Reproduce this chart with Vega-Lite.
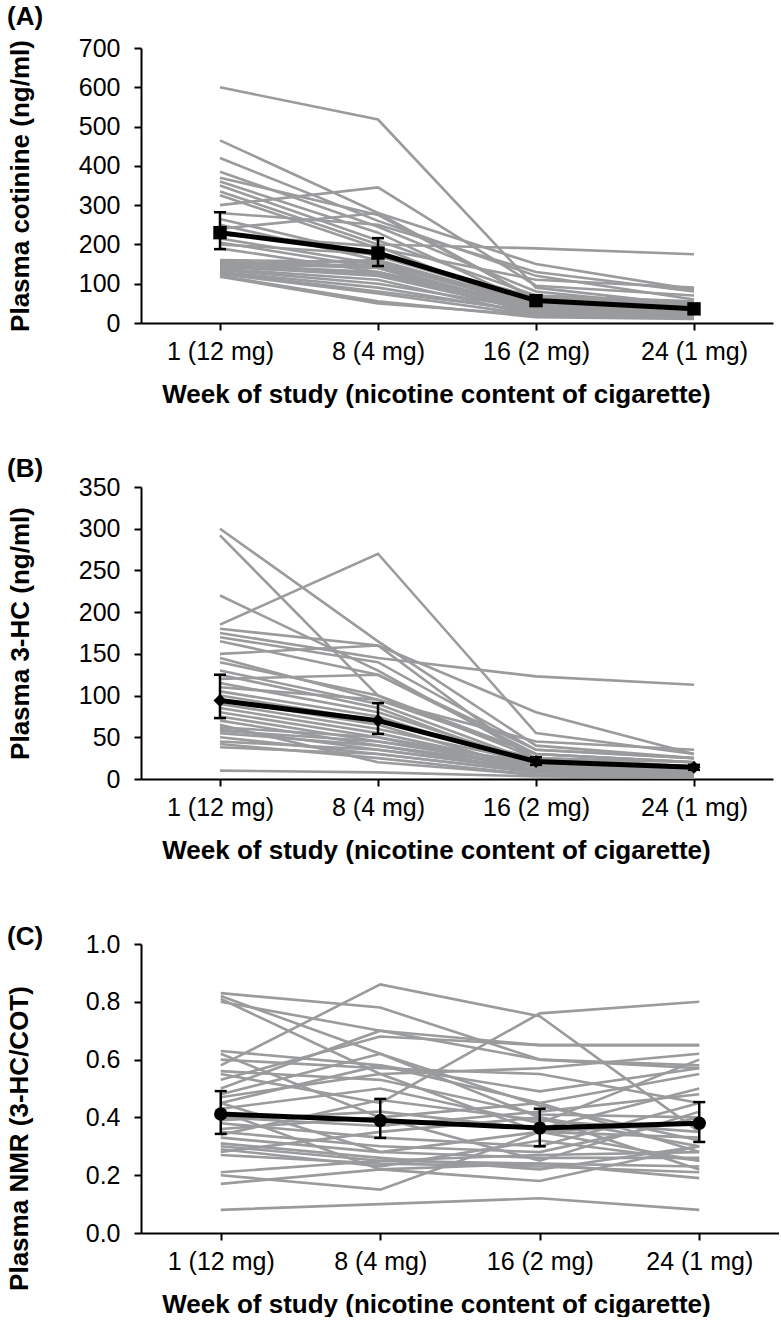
{
  "$schema": "https://vega.github.io/schema/vega-lite/v6.json",
  "padding": {"left": 6, "top": 4, "right": 0, "bottom": 0},
  "background": "white",
  "spacing": 49,
  "config": {
    "view": {"stroke": null},
    "font": "Liberation Sans",
    "axis": {
      "domainColor": "black", "domainWidth": 2, "tickColor": "black", "tickWidth": 2, "tickSize": 7,
      "labelFont": "Liberation Sans", "labelFontSize": 25, "labelColor": "black",
      "titleFont": "Liberation Sans", "titleFontSize": 26, "titleFontWeight": "bold", "titleColor": "black",
      "grid": false, "labelOverlap": false
    },
    "axisY": {"labelPadding": 14, "titlePadding": 45},
    "axisX": {"labelPadding": 9, "titlePadding": 17, "labelAngle": 0},
    "title": {"font": "Liberation Sans", "fontSize": 26, "fontWeight": "bold", "color": "black", "anchor": "start", "frame": "group"}
  },
  "datasets": {
    "subj": [
      {"p":"A","s":1,"w1":600,"w8":518,"w16":90,"w24":45},
      {"p":"A","s":2,"w1":465,"w8":280,"w16":150,"w24":85},
      {"p":"A","s":3,"w1":420,"w8":260,"w16":120,"w24":60},
      {"p":"A","s":4,"w1":385,"w8":245,"w16":80,"w24":40},
      {"p":"A","s":5,"w1":370,"w8":275,"w16":60,"w24":30},
      {"p":"A","s":6,"w1":360,"w8":230,"w16":45,"w24":25},
      {"p":"A","s":7,"w1":350,"w8":210,"w16":70,"w24":55},
      {"p":"A","s":8,"w1":335,"w8":200,"w16":190,"w24":175},
      {"p":"A","s":9,"w1":325,"w8":190,"w16":110,"w24":90},
      {"p":"A","s":10,"w1":300,"w8":345,"w16":95,"w24":70},
      {"p":"A","s":11,"w1":280,"w8":250,"w16":130,"w24":80},
      {"p":"A","s":12,"w1":265,"w8":170,"w16":55,"w24":35},
      {"p":"A","s":13,"w1":250,"w8":160,"w16":40,"w24":30},
      {"p":"A","s":14,"w1":240,"w8":280,"w16":60,"w24":45},
      {"p":"A","s":15,"w1":225,"w8":195,"w16":35,"w24":25},
      {"p":"A","s":16,"w1":215,"w8":150,"w16":50,"w24":40},
      {"p":"A","s":17,"w1":205,"w8":140,"w16":30,"w24":20},
      {"p":"A","s":18,"w1":200,"w8":175,"w16":65,"w24":50},
      {"p":"A","s":19,"w1":190,"w8":130,"w16":45,"w24":35},
      {"p":"A","s":20,"w1":160,"w8":155,"w16":40,"w24":30},
      {"p":"A","s":21,"w1":155,"w8":145,"w16":35,"w24":25},
      {"p":"A","s":22,"w1":152,"w8":140,"w16":30,"w24":30},
      {"p":"A","s":23,"w1":150,"w8":160,"w16":50,"w24":40},
      {"p":"A","s":24,"w1":148,"w8":130,"w16":25,"w24":20},
      {"p":"A","s":25,"w1":145,"w8":120,"w16":30,"w24":25},
      {"p":"A","s":26,"w1":140,"w8":150,"w16":45,"w24":35},
      {"p":"A","s":27,"w1":138,"w8":110,"w16":20,"w24":15},
      {"p":"A","s":28,"w1":135,"w8":100,"w16":35,"w24":30},
      {"p":"A","s":29,"w1":130,"w8":90,"w16":25,"w24":20},
      {"p":"A","s":30,"w1":128,"w8":80,"w16":30,"w24":25},
      {"p":"A","s":31,"w1":125,"w8":75,"w16":20,"w24":15},
      {"p":"A","s":32,"w1":120,"w8":55,"w16":15,"w24":10},
      {"p":"A","s":33,"w1":118,"w8":50,"w16":20,"w24":15},
      {"p":"A","s":34,"w1":142,"w8":125,"w16":40,"w24":30},
      {"p":"B","s":1,"w1":300,"w8":165,"w16":40,"w24":25},
      {"p":"B","s":2,"w1":292,"w8":100,"w16":30,"w24":20},
      {"p":"B","s":3,"w1":220,"w8":130,"w16":25,"w24":15},
      {"p":"B","s":4,"w1":185,"w8":270,"w16":55,"w24":30},
      {"p":"B","s":5,"w1":180,"w8":160,"w16":20,"w24":10},
      {"p":"B","s":6,"w1":175,"w8":145,"w16":123,"w24":113},
      {"p":"B","s":7,"w1":170,"w8":140,"w16":35,"w24":25},
      {"p":"B","s":8,"w1":165,"w8":125,"w16":30,"w24":20},
      {"p":"B","s":9,"w1":150,"w8":160,"w16":80,"w24":30},
      {"p":"B","s":10,"w1":145,"w8":95,"w16":45,"w24":35},
      {"p":"B","s":11,"w1":140,"w8":100,"w16":25,"w24":15},
      {"p":"B","s":12,"w1":130,"w8":90,"w16":20,"w24":10},
      {"p":"B","s":13,"w1":125,"w8":85,"w16":15,"w24":10},
      {"p":"B","s":14,"w1":120,"w8":125,"w16":35,"w24":25},
      {"p":"B","s":15,"w1":115,"w8":80,"w16":20,"w24":15},
      {"p":"B","s":16,"w1":110,"w8":95,"w16":30,"w24":20},
      {"p":"B","s":17,"w1":105,"w8":75,"w16":15,"w24":10},
      {"p":"B","s":18,"w1":100,"w8":70,"w16":25,"w24":20},
      {"p":"B","s":19,"w1":95,"w8":65,"w16":10,"w24":8},
      {"p":"B","s":20,"w1":90,"w8":60,"w16":20,"w24":15},
      {"p":"B","s":21,"w1":85,"w8":55,"w16":15,"w24":10},
      {"p":"B","s":22,"w1":80,"w8":50,"w16":10,"w24":5},
      {"p":"B","s":23,"w1":75,"w8":45,"w16":20,"w24":15},
      {"p":"B","s":24,"w1":70,"w8":40,"w16":15,"w24":10},
      {"p":"B","s":25,"w1":65,"w8":20,"w16":5,"w24":5},
      {"p":"B","s":26,"w1":60,"w8":35,"w16":10,"w24":8},
      {"p":"B","s":27,"w1":58,"w8":45,"w16":15,"w24":10},
      {"p":"B","s":28,"w1":55,"w8":40,"w16":10,"w24":8},
      {"p":"B","s":29,"w1":50,"w8":30,"w16":8,"w24":5},
      {"p":"B","s":30,"w1":45,"w8":35,"w16":12,"w24":10},
      {"p":"B","s":31,"w1":42,"w8":25,"w16":5,"w24":3},
      {"p":"B","s":32,"w1":38,"w8":30,"w16":8,"w24":5},
      {"p":"B","s":33,"w1":10,"w8":8,"w16":3,"w24":2},
      {"p":"B","s":34,"w1":62,"w8":50,"w16":18,"w24":12},
      {"p":"C","s":1,"w1":0.83,"w8":0.78,"w16":0.60,"w24":0.57},
      {"p":"C","s":2,"w1":0.82,"w8":0.62,"w16":0.40,"w24":0.30},
      {"p":"C","s":3,"w1":0.81,"w8":0.55,"w16":0.35,"w24":0.25},
      {"p":"C","s":4,"w1":0.80,"w8":0.70,"w16":0.65,"w24":0.65},
      {"p":"C","s":5,"w1":0.63,"w8":0.58,"w16":0.45,"w24":0.55},
      {"p":"C","s":6,"w1":0.58,"w8":0.86,"w16":0.75,"w24":0.35},
      {"p":"C","s":7,"w1":0.55,"w8":0.45,"w16":0.76,"w24":0.80},
      {"p":"C","s":8,"w1":0.53,"w8":0.68,"w16":0.65,"w24":0.65},
      {"p":"C","s":9,"w1":0.50,"w8":0.70,"w16":0.60,"w24":0.58},
      {"p":"C","s":10,"w1":0.47,"w8":0.55,"w16":0.57,"w24":0.62},
      {"p":"C","s":11,"w1":0.45,"w8":0.58,"w16":0.49,"w24":0.57},
      {"p":"C","s":12,"w1":0.43,"w8":0.50,"w16":0.38,"w24":0.60},
      {"p":"C","s":13,"w1":0.40,"w8":0.37,"w16":0.42,"w24":0.48},
      {"p":"C","s":14,"w1":0.38,"w8":0.33,"w16":0.30,"w24":0.45},
      {"p":"C","s":15,"w1":0.36,"w8":0.40,"w16":0.25,"w24":0.42},
      {"p":"C","s":16,"w1":0.35,"w8":0.30,"w16":0.28,"w24":0.40},
      {"p":"C","s":17,"w1":0.33,"w8":0.28,"w16":0.35,"w24":0.33},
      {"p":"C","s":18,"w1":0.31,"w8":0.26,"w16":0.22,"w24":0.30},
      {"p":"C","s":19,"w1":0.30,"w8":0.25,"w16":0.27,"w24":0.28},
      {"p":"C","s":20,"w1":0.29,"w8":0.23,"w16":0.32,"w24":0.25},
      {"p":"C","s":21,"w1":0.28,"w8":0.35,"w16":0.40,"w24":0.22},
      {"p":"C","s":22,"w1":0.21,"w8":0.25,"w16":0.24,"w24":0.19},
      {"p":"C","s":23,"w1":0.20,"w8":0.15,"w16":0.35,"w24":0.38},
      {"p":"C","s":24,"w1":0.17,"w8":0.22,"w16":0.18,"w24":0.30},
      {"p":"C","s":25,"w1":0.08,"w8":0.10,"w16":0.12,"w24":0.08},
      {"p":"C","s":26,"w1":0.62,"w8":0.40,"w16":0.45,"w24":0.28},
      {"p":"C","s":27,"w1":0.48,"w8":0.62,"w16":0.44,"w24":0.32},
      {"p":"C","s":28,"w1":0.45,"w8":0.28,"w16":0.26,"w24":0.26},
      {"p":"C","s":29,"w1":0.42,"w8":0.22,"w16":0.24,"w24":0.23},
      {"p":"C","s":30,"w1":0.39,"w8":0.42,"w16":0.36,"w24":0.50},
      {"p":"C","s":31,"w1":0.34,"w8":0.46,"w16":0.39,"w24":0.35},
      {"p":"C","s":32,"w1":0.56,"w8":0.53,"w16":0.41,"w24":0.40},
      {"p":"C","s":33,"w1":0.27,"w8":0.24,"w16":0.23,"w24":0.21},
      {"p":"C","s":34,"w1":0.60,"w8":0.57,"w16":0.55,"w24":0.45}
    ],
    "means": [
      {"p":"A","wk":"w1","m":230,"lo":188,"hi":282},
      {"p":"A","wk":"w8","m":178,"lo":145,"hi":216},
      {"p":"A","wk":"w16","m":57,"lo":49,"hi":66},
      {"p":"A","wk":"w24","m":36,"lo":30,"hi":43},
      {"p":"B","wk":"w1","m":94,"lo":73,"hi":125},
      {"p":"B","wk":"w8","m":70,"lo":54,"hi":91},
      {"p":"B","wk":"w16","m":21,"lo":17,"hi":26},
      {"p":"B","wk":"w24","m":14,"lo":11,"hi":17},
      {"p":"C","wk":"w1","m":0.412,"lo":0.343,"hi":0.491},
      {"p":"C","wk":"w8","m":0.389,"lo":0.329,"hi":0.464},
      {"p":"C","wk":"w16","m":0.363,"lo":0.30,"hi":0.43},
      {"p":"C","wk":"w24","m":0.38,"lo":0.315,"hi":0.453}
    ]
  },
  "vconcat": [
    {
      "width": 632, "height": 275,
      "title": {"text": "(A)", "dx": -134, "offset": 6},
      "encoding": {
        "x": {"field": "wk", "type": "ordinal", "sort": ["w1","w8","w16","w24"], "scale": {"type": "point", "padding": 0.5},
              "title": "Week of study (nicotine content of cigarette)",
              "axis": {"titleX": 295, "labelExpr": "datum.value == 'w1' ? '1 (12 mg)' : datum.value == 'w8' ? '8 (4 mg)' : datum.value == 'w16' ? '16 (2 mg)' : '24 (1 mg)'"}}
      },
      "layer": [
        {"data": {"name": "subj"}, "transform": [{"filter": "datum.p == 'A'"}, {"fold": ["w1","w8","w16","w24"], "as": ["wk","v"]}],
         "mark": {"type": "line", "color": "#9a9b9d", "strokeWidth": 2.6},
         "encoding": {"y": {"field": "v", "type": "quantitative", "scale": {"domain": [0,700]}, "title": "Plasma cotinine (ng/ml)", "axis": {"values": [0,100,200,300,400,500,600,700], "labelOverlap": false}}, "detail": {"field": "s"}}},
        {"data": {"name": "means"}, "transform": [{"filter": "datum.p == 'A'"}],
         "mark": {"type": "rule", "color": "black", "strokeWidth": 2.5},
         "encoding": {"y": {"field": "lo", "type": "quantitative", "title": "Plasma cotinine (ng/ml)", "axis": {"values": [0,100,200,300,400,500,600,700], "labelOverlap": false}}, "y2": {"field": "hi"}}},
        {"data": {"name": "means"}, "transform": [{"filter": "datum.p == 'A'"}],
         "mark": {"type": "tick", "color": "black", "size": 12, "thickness": 2.5, "opacity": 1},
         "encoding": {"y": {"field": "lo", "type": "quantitative", "title": "Plasma cotinine (ng/ml)", "axis": {"values": [0,100,200,300,400,500,600,700], "labelOverlap": false}}}},
        {"data": {"name": "means"}, "transform": [{"filter": "datum.p == 'A'"}],
         "mark": {"type": "tick", "color": "black", "size": 12, "thickness": 2.5, "opacity": 1},
         "encoding": {"y": {"field": "hi", "type": "quantitative", "title": "Plasma cotinine (ng/ml)", "axis": {"values": [0,100,200,300,400,500,600,700], "labelOverlap": false}}}},
        {"data": {"name": "means"}, "transform": [{"filter": "datum.p == 'A'"}],
         "mark": {"type": "line", "color": "black", "strokeWidth": 5},
         "encoding": {"y": {"field": "m", "type": "quantitative", "title": "Plasma cotinine (ng/ml)", "axis": {"values": [0,100,200,300,400,500,600,700], "labelOverlap": false}}}},
        {"data": {"name": "means"}, "transform": [{"filter": "datum.p == 'A'"}],
         "mark": {"type": "point", "shape": "square", "filled": true, "color": "black", "opacity": 1, "size": 180},
         "encoding": {"y": {"field": "m", "type": "quantitative", "title": "Plasma cotinine (ng/ml)", "axis": {"values": [0,100,200,300,400,500,600,700], "labelOverlap": false}}}}
      ]
    },
    {
      "spacing": 61,
      "vconcat": [
        {
          "width": 632, "height": 292,
          "title": {"text": "(B)", "dx": -134, "offset": -7},
          "encoding": {
            "x": {"field": "wk", "type": "ordinal", "sort": ["w1","w8","w16","w24"], "scale": {"type": "point", "padding": 0.5},
                  "title": "Week of study (nicotine content of cigarette)",
                  "axis": {"titleX": 295, "labelExpr": "datum.value == 'w1' ? '1 (12 mg)' : datum.value == 'w8' ? '8 (4 mg)' : datum.value == 'w16' ? '16 (2 mg)' : '24 (1 mg)'"}}
          },
          "layer": [
            {"data": {"name": "subj"}, "transform": [{"filter": "datum.p == 'B'"}, {"fold": ["w1","w8","w16","w24"], "as": ["wk","v"]}],
             "mark": {"type": "line", "color": "#9a9b9d", "strokeWidth": 2.6},
             "encoding": {"y": {"field": "v", "type": "quantitative", "scale": {"domain": [0,350]}, "title": "Plasma 3-HC (ng/ml)", "axis": {"values": [0,50,100,150,200,250,300,350], "labelOverlap": false}}, "detail": {"field": "s"}}},
            {"data": {"name": "means"}, "transform": [{"filter": "datum.p == 'B'"}],
             "mark": {"type": "rule", "color": "black", "strokeWidth": 2.5},
             "encoding": {"y": {"field": "lo", "type": "quantitative", "title": "Plasma 3-HC (ng/ml)"}, "y2": {"field": "hi"}}},
            {"data": {"name": "means"}, "transform": [{"filter": "datum.p == 'B'"}],
             "mark": {"type": "tick", "color": "black", "size": 12, "thickness": 2.5, "opacity": 1},
             "encoding": {"y": {"field": "lo", "type": "quantitative", "title": "Plasma 3-HC (ng/ml)"}}},
            {"data": {"name": "means"}, "transform": [{"filter": "datum.p == 'B'"}],
             "mark": {"type": "tick", "color": "black", "size": 12, "thickness": 2.5, "opacity": 1},
             "encoding": {"y": {"field": "hi", "type": "quantitative", "title": "Plasma 3-HC (ng/ml)"}}},
            {"data": {"name": "means"}, "transform": [{"filter": "datum.p == 'B'"}],
             "mark": {"type": "line", "color": "black", "strokeWidth": 5},
             "encoding": {"y": {"field": "m", "type": "quantitative", "title": "Plasma 3-HC (ng/ml)"}}},
            {"data": {"name": "means"}, "transform": [{"filter": "datum.p == 'B'"}],
             "mark": {"type": "point", "shape": "diamond", "filled": true, "color": "black", "opacity": 1, "size": 170},
             "encoding": {"y": {"field": "m", "type": "quantitative", "title": "Plasma 3-HC (ng/ml)"}}}
          ]
        },
        {
          "width": 638, "height": 289,
          "title": {"text": "(C)", "dx": -134, "offset": -18},
          "encoding": {
            "x": {"field": "wk", "type": "ordinal", "sort": ["w1","w8","w16","w24"], "scale": {"type": "point", "padding": 0.5},
                  "title": "Week of study (nicotine content of cigarette)",
                  "axis": {"titleX": 295, "labelExpr": "datum.value == 'w1' ? '1 (12 mg)' : datum.value == 'w8' ? '8 (4 mg)' : datum.value == 'w16' ? '16 (2 mg)' : '24 (1 mg)'"}}
          },
          "layer": [
            {"data": {"name": "subj"}, "transform": [{"filter": "datum.p == 'C'"}, {"fold": ["w1","w8","w16","w24"], "as": ["wk","v"]}],
             "mark": {"type": "line", "color": "#9a9b9d", "strokeWidth": 2.6},
             "encoding": {"y": {"field": "v", "type": "quantitative", "scale": {"domain": [0,1]}, "title": "Plasma NMR (3-HC/COT)", "axis": {"values": [0,0.2,0.4,0.6,0.8,1.0], "format": ".1f", "titlePadding": 53, "titleY": 194, "labelOverlap": false}}, "detail": {"field": "s"}}},
            {"data": {"name": "means"}, "transform": [{"filter": "datum.p == 'C'"}],
             "mark": {"type": "rule", "color": "black", "strokeWidth": 2.5},
             "encoding": {"y": {"field": "lo", "type": "quantitative", "title": "Plasma NMR (3-HC/COT)"}, "y2": {"field": "hi"}}},
            {"data": {"name": "means"}, "transform": [{"filter": "datum.p == 'C'"}],
             "mark": {"type": "tick", "color": "black", "size": 12, "thickness": 2.5, "opacity": 1},
             "encoding": {"y": {"field": "lo", "type": "quantitative", "title": "Plasma NMR (3-HC/COT)"}}},
            {"data": {"name": "means"}, "transform": [{"filter": "datum.p == 'C'"}],
             "mark": {"type": "tick", "color": "black", "size": 12, "thickness": 2.5, "opacity": 1},
             "encoding": {"y": {"field": "hi", "type": "quantitative", "title": "Plasma NMR (3-HC/COT)"}}},
            {"data": {"name": "means"}, "transform": [{"filter": "datum.p == 'C'"}],
             "mark": {"type": "line", "color": "black", "strokeWidth": 5},
             "encoding": {"y": {"field": "m", "type": "quantitative", "title": "Plasma NMR (3-HC/COT)"}}},
            {"data": {"name": "means"}, "transform": [{"filter": "datum.p == 'C'"}],
             "mark": {"type": "point", "shape": "circle", "filled": true, "color": "black", "opacity": 1, "size": 180},
             "encoding": {"y": {"field": "m", "type": "quantitative", "title": "Plasma NMR (3-HC/COT)"}}}
          ]
        }
      ]
    }
  ]
}
